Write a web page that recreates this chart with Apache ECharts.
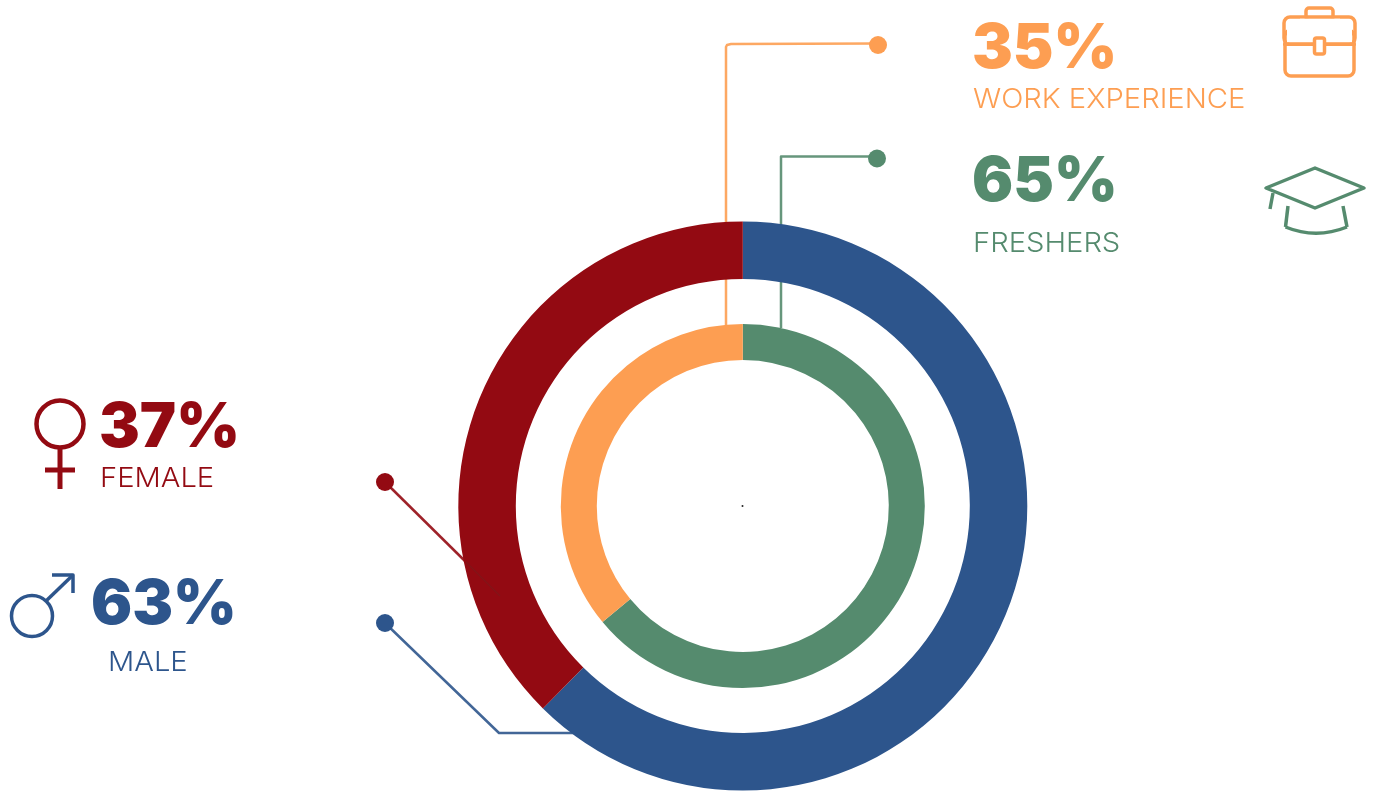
<!DOCTYPE html>
<html><head><meta charset="utf-8">
<style>html,body{margin:0;padding:0;background:#fff}#c{width:1375px;height:792px}</style>
<script src="https://cdn.jsdelivr.net/npm/echarts@6/dist/echarts.min.js"></script>
</head><body><div id="c"></div>
<script>
const genderNames = ['MALE', 'FEMALE'];
const genderLabels = [63, 37];
const genderSlices = [62.4, 37.6];
const experienceNames = ['FRESHERS', 'WORK EXPERIENCE'];
const experienceLabels = [65, 35];
const experienceSlices = [64, 36];

const BLUE = '#2D558C', RED = '#930A12', GREEN = '#558B6E', ORANGE = '#FD9E52';
const FONT = 'Inter';

function callout(value, name, color, x, yv, nx, yn) {
  return [
    { type: 'text', z: 5, x: x, y: yv, scaleX: 0.985, style: { text: value + '%', fill: color, font: '900 62px ' + FONT, textVerticalAlign: 'middle' } },
    { type: 'text', z: 5, x: nx, y: yn, scaleX: 1.08, style: { text: name, fill: color, font: '300 27px ' + FONT, textVerticalAlign: 'middle' } }
  ];
}
function leader(points, color) {
  return { type: 'polyline', z: 1, shape: { points: points }, style: { fill: null, stroke: color, lineWidth: 2.5, opacity: 0.9, lineJoin: 'round' } };
}
function dot(x, y, color) {
  return { type: 'circle', z: 4, shape: { cx: x, cy: y, r: 9 }, style: { fill: color } };
}
function stroke(points, color, w) {
  return { type: 'polyline', z: 5, shape: { points: points }, style: { fill: null, stroke: color, lineWidth: w, lineJoin: 'round' } };
}
function box(x, y, width, height, r, color, w) {
  return { type: 'rect', z: 5, shape: { x: x, y: y, width: width, height: height, r: r }, style: { fill: null, stroke: color, lineWidth: w } };
}

const chart = echarts.init(document.getElementById('c'), null, { renderer: 'canvas' });
chart.setOption({
  animation: false,
  backgroundColor: '#ffffff',
  series: [
    {
      type: 'pie', z: 2, center: [742.8, 506], radius: [227, 284.5], startAngle: 90, clockwise: true,
      label: { show: false }, labelLine: { show: false }, silent: true,
      data: genderNames.map((n, i) => ({ name: n, value: genderSlices[i], itemStyle: { color: [BLUE, RED][i] } }))
    },
    {
      type: 'pie', z: 2, center: [742.8, 506], radius: [146, 182], startAngle: 90, clockwise: true,
      label: { show: false }, labelLine: { show: false }, silent: true,
      data: experienceNames.map((n, i) => ({ name: n, value: experienceSlices[i], itemStyle: { color: [GREEN, ORANGE][i] } }))
    },
    {
      type: 'custom', z: 3, coordinateSystem: 'none', silent: true, data: [[0]],
      renderItem: function () {
        return { type: 'line', shape: { x1: 466, y1: 562, x2: 500, y2: 596 }, style: { stroke: '#7a1a1c', lineWidth: 1.5, opacity: 0.6 } };
      }
    }
  ],
  graphic: { elements: [
    leader([[726, 326], [726, 47], [727, 45], [731, 44], [878, 43.5]], ORANGE),
    leader([[781, 328], [781, 156.5], [877, 156.5]], GREEN),
    leader([[385, 482], [470, 566]], RED),
    leader([[385, 623], [499, 733], [580, 733]], BLUE),
    dot(878, 45, ORANGE), dot(877, 158.5, GREEN), dot(385, 482, RED), dot(385, 623, BLUE),
    { type: 'circle', z: 5, shape: { cx: 742.5, cy: 506, r: 1 }, style: { fill: '#222' } },

    ...callout(experienceLabels[1], experienceNames[1], ORANGE, 972, 49, 973, 100),
    ...callout(experienceLabels[0], experienceNames[0], GREEN, 972, 182, 973, 244),
    ...callout(genderLabels[1], genderNames[1], RED, 99, 428, 100, 479),
    ...callout(genderLabels[0], genderNames[0], BLUE, 91, 605, 108, 663),

    // briefcase
    box(1306, 8, 27, 12, 3, ORANGE, 3.5),
    { type: 'rect', z: 6, shape: { x: 1300, y: 18.8, width: 40, height: 6 }, style: { fill: '#fff' } },
    box(1284, 17, 71, 27, 6, ORANGE, 3.5),
    box(1285, 30, 69, 46, 6, ORANGE, 3.5),
    { type: 'rect', z: 6, shape: { x: 1287, y: 24, width: 65, height: 18.2 }, style: { fill: '#fff' } },
    { type: 'rect', z: 7, shape: { x: 1283, y: 42.5, width: 73, height: 3.5, r: 1.5 }, style: { fill: ORANGE } },
    { type: 'rect', z: 7, shape: { x: 1314.5, y: 38, width: 10, height: 16, r: 2 }, style: { fill: '#fff', stroke: ORANGE, lineWidth: 3.5 } },
    // graduation cap
    { type: 'polygon', z: 5, shape: { points: [[1266, 188], [1315, 168], [1364, 188], [1315, 208]] }, style: { fill: null, stroke: GREEN, lineWidth: 3.5, lineJoin: 'round' } },
    stroke([[1273, 193], [1270, 209]], GREEN, 3.5),
    stroke([[1288, 206], [1285.5, 227]], GREEN, 3.5),
    stroke([[1343, 206], [1347, 227]], GREEN, 3.5),
    { type: 'bezierCurve', z: 5, shape: { x1: 1285.5, y1: 227, x2: 1347, y2: 227, cpx1: 1305, cpy1: 235, cpx2: 1327, cpy2: 235 }, style: { fill: null, stroke: GREEN, lineWidth: 3.5 } },
    // female
    { type: 'circle', z: 5, shape: { cx: 60, cy: 424, r: 23.5 }, style: { fill: null, stroke: RED, lineWidth: 4.5 } },
    stroke([[60, 448], [60, 489]], RED, 5),
    stroke([[45, 470], [75, 470]], RED, 5),
    // male
    { type: 'circle', z: 5, shape: { cx: 32, cy: 616, r: 20.5 }, style: { fill: null, stroke: BLUE, lineWidth: 3.5 } },
    stroke([[46, 601], [73, 575]], BLUE, 3.5),
    stroke([[52, 575], [73, 575], [73, 593]], BLUE, 3.5)
  ] }
});
</script></body></html>
